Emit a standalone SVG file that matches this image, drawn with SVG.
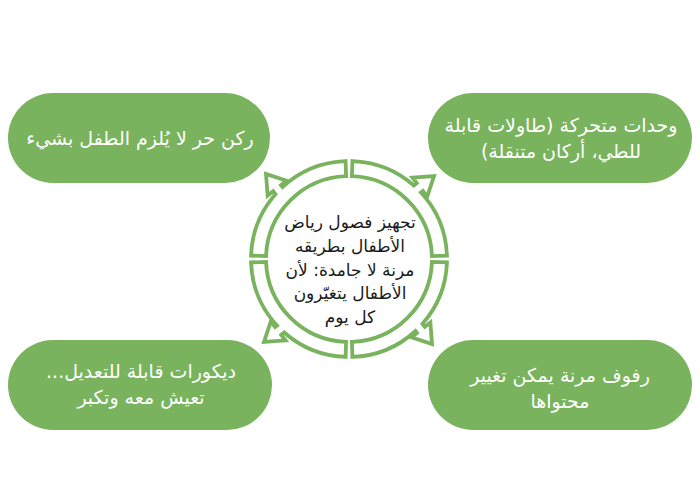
<svg xmlns="http://www.w3.org/2000/svg" xmlns:xlink="http://www.w3.org/1999/xlink" width="700" height="500" viewBox="0 0 700 500">
<style>
.box{fill:#7AB35D;}
.btxt{fill:#ffffff;font-family:"DejaVu Sans",sans-serif;font-size:19px;text-anchor:middle;}
.ctxt{fill:#1a1a1a;font-family:"DejaVu Sans",sans-serif;font-size:17px;text-anchor:middle;}
.arc{fill:#ffffff;stroke:#7AB35D;stroke-width:3.8;stroke-linejoin:miter;}
</style>
<defs>
<path id="arw" class="arc" d="M3.42,-97.94 A98,98 0 0 1 64.78,-73.54 L67.74,-75.85 L63.43,-81.37 L85,-83 L78.21,-62.45 L73.9,-67.97 L72,-66.49 A98,98 0 0 1 97.94,-3.42 L82.95,-2.9 A83,83 0 0 0 2.9,-82.95 Z"/>
</defs>
<rect width="700" height="500" fill="#ffffff"/>
<g id="connectors">
<use xlink:href="#arw" transform="translate(349,259)"/>
<use xlink:href="#arw" transform="translate(349,259) rotate(90)"/>
<use xlink:href="#arw" transform="translate(349,259) rotate(180)"/>
<use xlink:href="#arw" transform="translate(349,259) rotate(270)"/>
</g>
<g id="center">
<text class="ctxt" direction="rtl" x="350" y="228">تجهيز فصول رياض</text>
<text class="ctxt" direction="rtl" x="350" y="252">الأطفال بطريقه</text>
<text class="ctxt" direction="rtl" x="350" y="276">مرنة لا جامدة: لأن</text>
<text class="ctxt" direction="rtl" x="350" y="299">الأطفال يتغيّرون</text>
<text class="ctxt" direction="rtl" x="350" y="323">كل يوم</text>
</g>
<g id="node-tl">
<rect class="box" x="8" y="93" width="262" height="90" rx="45"/>
<text class="btxt" direction="rtl" x="140" y="145">ركن حر لا يُلزم الطفل بشيء</text>
</g>
<g id="node-tr">
<rect class="box" x="428" y="93" width="264" height="90" rx="45"/>
<text class="btxt" direction="rtl" x="561" y="132">وحدات متحركة (طاولات قابلة</text>
<text class="btxt" direction="rtl" x="561" y="158">للطي، أركان متنقلة)</text>
</g>
<g id="node-bl">
<rect class="box" x="8" y="340" width="264" height="90" rx="45"/>
<text class="btxt" direction="rtl" x="141" y="378">ديكورات قابلة للتعديل...</text>
<text class="btxt" direction="rtl" x="141" y="404">تعيش معه وتكبر</text>
</g>
<g id="node-br">
<rect class="box" x="428" y="340" width="264" height="90" rx="45"/>
<text class="btxt" direction="rtl" x="560" y="382">رفوف مرنة يمكن تغيير</text>
<text class="btxt" direction="rtl" x="560" y="408">محتواها</text>
</g>
</svg>
